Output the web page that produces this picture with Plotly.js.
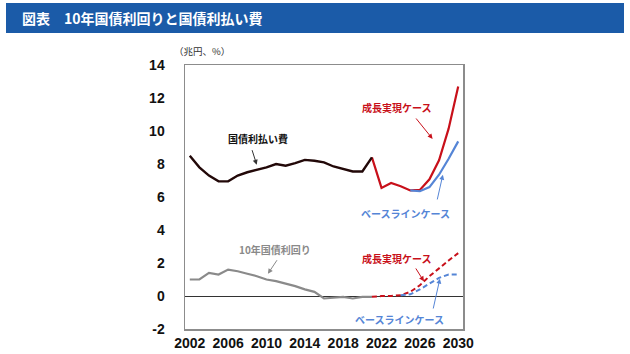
<!DOCTYPE html>
<html><head><meta charset="utf-8">
<script src="https://cdn.plot.ly/plotly-3.0.1.min.js"></script>
<style>html,body{margin:0;padding:0;background:#fff;}#chart{width:630px;height:354px;}</style>
</head><body><div id="chart"></div>
<script>
// Data
const yearsActual = [2002,2003,2004,2005,2006,2007,2008,2009,2010,2011,2012,2013,2014,2015,2016,2017,2018,2019,2020,2021];
const interestPayActual = [8.5,7.8,7.3,6.95,6.95,7.3,7.5,7.65,7.8,8.0,7.9,8.05,8.25,8.2,8.1,7.85,7.7,7.55,7.55,8.4];
const yieldActual = [1.0,1.0,1.4,1.3,1.6,1.5,1.35,1.2,1.0,0.9,0.75,0.6,0.4,0.25,-0.15,-0.1,-0.05,-0.15,-0.05,-0.05];

const yearsGrowth = [2021,2022,2023,2024,2025,2026,2027,2028,2029,2030];
const interestPayGrowth = [8.4,6.55,6.85,6.65,6.4,6.43,7.07,8.22,10.14,12.7];
const yieldGrowth = [-0.05,0,0,0.05,0.25,0.65,1.2,1.7,2.15,2.6];

const yearsBase = [2025,2026,2027,2028,2029,2030];
const interestPayBase = [6.4,6.35,6.6,7.35,8.32,9.37];
const yearsBaseYield = [2024,2025,2026,2027,2028,2029,2030];
const yieldBase = [0.05,0.1,0.4,0.75,1.1,1.3,1.3];

const xTicks = [2002,2006,2010,2014,2018,2022,2026,2030];
const yTicks = [-2,0,2,4,6,8,10,12,14];
const yTickText = ['-2','0','2','4','6','8','10','12','14'];

const RED = '#c8101a', BLUE = '#5585d6', GREY = '#8a8a8a', BLACK = '#220808';
const JP = '"Noto Sans CJK JP", "Noto Sans", sans-serif';

const traces = [
  {x: yearsGrowth, y: interestPayGrowth, mode:'lines', line:{color:RED, width:2.2}},
  {x: yearsBase, y: interestPayBase, mode:'lines', line:{color:BLUE, width:2.2}},
  {x: yearsActual, y: interestPayActual, mode:'lines', line:{color:BLACK, width:2.4}},
  {x: yearsActual, y: yieldActual, mode:'lines', line:{color:GREY, width:2.2}},
  {x: yearsGrowth, y: yieldGrowth, mode:'lines', line:{color:RED, width:2, dash:'5px,3px'}},
  {x: yearsBaseYield, y: yieldBase, mode:'lines', line:{color:BLUE, width:2, dash:'5px,3px'}}
];

function txt(text, x, y, color){
  return {text:text, x:x, y:y, xref:'x', yref:'y', showarrow:false,
    font:{family:JP, size:10, color:color, weight:'bold'}};
}
function arr(x, y, ax, ay, color){
  return {text:'', x:x, y:y, ax:ax, ay:ay, xref:'x', yref:'y', axref:'x', ayref:'y',
    showarrow:true, arrowhead:2, arrowsize:1, arrowwidth:1, arrowcolor:color};
}

const annotations = [
  {text:'図表　10年国債利回りと国債利払い費', xref:'paper', yref:'paper',
   x:(20-185)/278, y:(329-18)/264, xanchor:'left', yanchor:'middle', showarrow:false,
   font:{family:JP, size:14, color:'#ffffff', weight:'bold'}},
  {text:'（兆円、%）', xref:'paper', yref:'paper', x:(172-185)/278, y:(329-51)/264,
   xanchor:'left', yanchor:'middle', showarrow:false, font:{family:JP, size:9.5, color:'#333'}},
  txt('国債利払い費', 2009.1, 9.53, '#111'),
  arr(2008.98, 7.96, 2008.45, 8.93, '#333'),
  txt('成長実現ケース', 2023.6, 11.45, RED),
  arr(2027.33, 9.52, 2025.48, 10.85, RED),
  txt('ベースラインケース', 2024.5, 4.99, BLUE),
  arr(2028.4, 7.35, 2027.78, 5.76, BLUE),
  txt('10年国債利回り', 2010.88, 2.79, GREY),
  arr(2010.15, 1.35, 2011.2, 2.26, GREY),
  txt('成長実現ケース', 2023.6, 2.26, RED),
  arr(2026.42, 0.89, 2025.48, 1.76, RED),
  txt('ベースラインケース', 2023.9, -1.45, BLUE),
  arr(2028.09, 1.05, 2027.36, -0.85, BLUE)
];

const layout = {
  width:630, height:354,
  margin:{l:185, r:167, t:65, b:25},
  paper_bgcolor:'#fff', plot_bgcolor:'#fff',
  showlegend:false,
  xaxis:{range:[2001.5,2030.5], tickvals:xTicks, ticktext:xTicks.map(String),
    showgrid:false, zeroline:false, showline:true, mirror:true, linecolor:'#8c8c8c', linewidth:1.5,
    ticks:'outside', ticklen:1, tickcolor:'rgba(0,0,0,0)',
    tickfont:{family:'"Liberation Sans", Arial, sans-serif', size:14, color:'#111', weight:'bold'}},
  yaxis:{range:[-2,14], tickvals:yTicks, ticktext:yTickText, showgrid:false,
    zeroline:true, zerolinecolor:'#333', zerolinewidth:1,
    showline:true, mirror:true, linecolor:'#8c8c8c', linewidth:1.5,
    ticks:'outside', ticklen:16, tickcolor:'rgba(0,0,0,0)',
    tickfont:{family:'"Liberation Sans", Arial, sans-serif', size:14, color:'#111', weight:'bold'}},
  shapes:[
    {type:'rect', xref:'paper', yref:'paper', x0:(6-185)/278, x1:(624-185)/278,
     y0:(329-33)/264, y1:(329-3)/264, fillcolor:'#1b5ba8', line:{width:0}, layer:'below'}
  ],
  annotations: annotations
};

Plotly.newPlot('chart', traces, layout, {displayModeBar:false, staticPlot:true});
</script></body></html>
